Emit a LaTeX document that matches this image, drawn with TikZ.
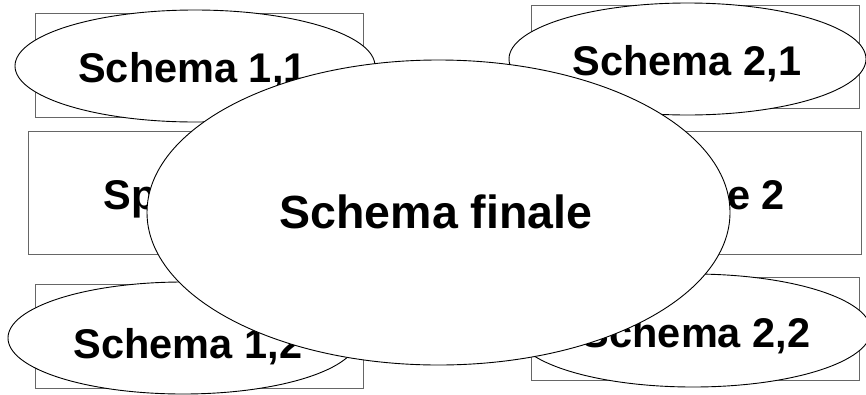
\documentclass[tikz,border=0pt]{standalone}
\usepackage{fontspec}
\setmainfont{Liberation Sans}
\usetikzlibrary{shapes.geometric}
\tikzset{
  framebox/.style={draw=black!60, line width=1pt},
  oval/.style={ellipse, draw=black, line width=0.9pt, fill=white, inner sep=0pt},
  smalltxt/.style={anchor=base, inner sep=0pt, font=\fontsize{41.5}{45}\selectfont\bfseries},
  bigtxt/.style={anchor=base, inner sep=0pt, font=\fontsize{46.5}{50}\selectfont\bfseries}
}
\begin{document}
\begin{tikzpicture}[x=1pt,y=-1pt]
\useasboundingbox (0,0) rectangle (866,394);
% rectangles
\draw[framebox] (35,13) rectangle (363,117);
\draw[framebox] (531,5) rectangle (859,108);
\draw[framebox] (28,131) rectangle (421,254);
\draw[framebox] (467,131) rectangle (861,254);
\draw[framebox] (35,284) rectangle (363,388);
\draw[framebox] (531,277) rectangle (859,380);
\node[smalltxt] (tsp1) at (224.5,209) {Specifiche 1};
\node[smalltxt] (tsp2) at (664,209) {Specifiche 2};
% small ellipses
\node[oval, minimum width=360pt, minimum height=112pt] (e11) at (195,66) {};
\node[smalltxt] (t11) at (192.5,82) {Schema 1,1};
\node[oval, minimum width=357pt, minimum height=112pt] (e21) at (687.5,59) {};
\node[smalltxt] (t21) at (687,75) {Schema 2,1};
\node[oval, minimum width=350pt, minimum height=112pt] (e12) at (183,338) {};
\node[smalltxt] (t12) at (188,358) {Schema 1,2};
\node[oval, minimum width=356pt, minimum height=113pt] (e22) at (693,330.5) {};
\node[smalltxt] (t22) at (696,347) {Schema 2,2};
% big ellipse on top
\node[oval, minimum width=583pt, minimum height=305pt] (efin) at (438.5,212.5) {};
\node[bigtxt] (tfin) at (436,228) {Schema finale};
\end{tikzpicture}
\end{document}
